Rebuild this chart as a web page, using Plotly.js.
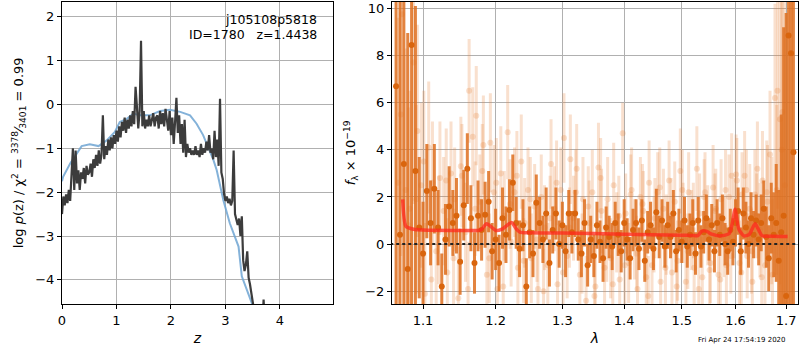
<!DOCTYPE html>
<html>
<head>
<meta charset="utf-8">
<script src="https://cdn.plot.ly/plotly-3.0.1.min.js"></script>
<style>html,body{margin:0;padding:0;background:#fff;}#chart{width:800px;height:350px;}</style>
</head>
<body>
<div id="chart"></div>
<script>
// ---- left panel: log p(z) ----
const zDark = [0.000,0.025,0.050,0.075,0.100,0.125,0.150,0.175,0.200,0.225,0.250,0.275,0.300,0.325,0.350,0.375,0.400,0.425,0.450,0.475,0.500,0.525,0.550,0.575,0.600,0.625,0.650,0.675,0.700,0.725,0.750,0.775,0.800,0.825,0.850,0.875,0.900,0.925,0.950,0.975,1.000,1.025,1.050,1.075,1.100,1.125,1.150,1.175,1.200,1.225,1.250,1.275,1.300,1.325,1.350,1.375,1.400,1.425,1.450,1.475,1.500,1.525,1.550,1.575,1.600,1.625,1.650,1.675,1.700,1.725,1.750,1.775,1.800,1.825,1.850,1.875,1.900,1.925,1.950,1.975,2.000,2.025,2.050,2.075,2.100,2.125,2.150,2.175,2.200,2.225,2.250,2.275,2.300,2.325,2.350,2.375,2.400,2.425,2.450,2.475,2.500,2.525,2.550,2.575,2.600,2.625,2.650,2.675,2.700,2.725,2.750,2.775,2.800,2.825,2.850,2.875,2.900,2.925,2.950,2.975,3.000,3.025,3.050,3.075,3.100,3.125,3.150,3.175,3.200,3.225,3.250,3.275,3.300,3.325,3.350,3.375,3.400,3.425,3.450,3.475,3.500,3.525,null,3.690,3.700,3.710];
const logpDark = [-2.50,-2.10,-2.30,-2.05,-2.25,-1.95,-2.20,-1.60,-1.00,-1.95,-1.05,-1.80,-1.50,-1.95,-1.55,-1.70,-1.45,-1.80,-1.40,-1.60,-1.55,-1.35,-1.65,-1.25,-1.45,-1.15,-1.40,-1.05,-1.35,-1.15,-0.25,-1.25,-0.95,-1.15,-0.80,-1.05,-0.75,-1.00,-0.70,-0.90,-0.60,-0.85,-0.50,-0.75,-0.40,-0.60,-0.30,-0.65,-0.35,-0.55,-0.25,-0.50,-0.15,-0.45,0.40,-0.05,-0.55,-0.15,1.45,-0.50,-0.15,-0.55,-0.35,-0.50,-0.25,-0.50,-0.35,-0.20,-0.50,-0.30,-0.25,-0.55,-0.15,-0.45,-0.20,-0.50,-0.10,-0.40,-0.60,-0.15,-0.70,-0.30,-0.90,-0.40,0.15,-0.65,-0.25,-0.90,-0.45,-1.10,-0.35,-1.20,-0.90,-1.10,-1.00,-1.15,-1.05,-1.15,-0.95,-1.15,-1.05,-1.20,-0.90,-1.15,-1.00,-1.10,-0.85,-1.05,-0.70,-1.10,-1.00,-1.25,-0.60,-1.20,-0.80,-1.40,0.13,-1.55,-1.70,-2.05,-2.20,-2.10,-2.25,-2.15,-2.30,-2.20,-1.05,-2.50,-2.60,-2.75,-2.60,-3.00,-2.55,-3.55,-3.80,-3.65,-3.35,-3.95,-4.10,-4.30,-4.50,-4.70,null,-4.70,-4.45,-4.70];
const zBlue = [0.00,0.02,0.15,0.27,0.36,0.51,0.67,0.82,0.97,1.06,1.19,1.31,1.43,1.61,1.80,1.98,2.17,2.35,2.47,2.59,2.72,2.78,2.84,2.93,2.96,3.08,3.24,3.30,3.48,3.55];
const logpBlue = [-1.75,-1.65,-1.35,-1.12,-0.95,-0.91,-0.95,-0.82,-0.63,-0.40,-0.33,-0.21,-0.25,-0.25,-0.15,-0.12,-0.17,-0.25,-0.44,-0.70,-1.08,-1.27,-1.50,-2.03,-2.18,-2.71,-3.24,-3.92,-4.53,-4.75];
const zTicks = [0,1,2,3,4];
const logpTicks = [-4,-3,-2,-1,0,1,2];

// ---- right panel: spectrum ----
const lamDark = [1.065,1.070,1.075,1.080,1.085,1.090,1.095,1.100,1.105,1.110,1.115,1.120,1.125,1.130,1.135,1.140,1.145,1.150,1.155,1.160,1.165,1.170,1.175,1.180,1.185,1.190,1.195,1.200,1.205,1.210,1.215,1.220,1.225,1.230,1.235,1.240,1.245,1.250,1.255,1.260,1.265,1.270,1.275,1.280,1.285,1.290,1.295,1.300,1.305,1.310,1.315,1.320,1.325,1.330,1.335,1.340,1.345,1.350,1.355,1.360,1.365,1.370,1.375,1.380,1.385,1.390,1.395,1.400,1.405,1.410,1.415,1.420,1.425,1.430,1.435,1.440,1.445,1.450,1.455,1.460,1.465,1.470,1.475,1.480,1.485,1.490,1.495,1.500,1.505,1.510,1.515,1.520,1.525,1.530,1.535,1.540,1.545,1.550,1.555,1.560,1.565,1.570,1.575,1.580,1.585,1.590,1.595,1.600,1.605,1.610,1.615,1.620,1.625,1.630,1.635,1.640,1.645,1.650,1.655,1.660,1.665,1.670,1.675,1.680,1.685,1.690,1.695,1.700,1.705,1.710,1.715];
const fluxDark = [6.7,0.4,3.4,-1.05,8.45,3.1,0.7,-0.4,2.25,0.9,2.35,0.7,-1.8,0.2,1.6,0.9,1.2,-0.75,1.65,3.2,1.1,-0.8,1.2,0.6,1.25,1.8,-0.3,0.2,-0.8,1.1,0.4,1.45,2.6,0.9,-0.2,0.8,-1.8,0.5,-0.4,1.75,0.9,0.2,1.3,-0.8,0.6,1.3,0.0,0.8,-0.3,1.3,0.5,1.3,0.2,-0.4,0.9,-0.9,0.2,-0.5,0.8,0.1,-0.6,0.7,0.3,-0.1,0.9,0.4,-0.3,0.9,0.2,-0.6,0.6,0.9,-0.2,1.0,-0.7,0.5,0.8,-0.2,1.35,0.3,1.0,-0.1,0.8,0.3,1.3,-0.3,0.6,0.1,1.0,-0.1,0.4,0.9,-0.4,1.0,-0.1,0.5,1.1,0.2,0.8,-0.3,0.9,0.4,1.1,0.0,-0.3,0.6,0.1,0.9,1.4,-0.3,1.3,0.7,0.0,1.1,0.4,1.0,0.2,0.9,1.5,0.3,-0.6,1.1,0.4,0.9,-0.7,0.5,1.2,-2.2,8.85,8.1,3.9];
const errDark = [12,10,9,10,12,7,3,2.2,2.0,1.8,1.9,1.6,1.4,1.5,1.7,1.4,1.6,1.4,1.5,1.5,1.4,1.3,1.5,1.3,1.4,1.3,1.2,1.3,1.2,1.3,1.2,1.3,1.2,1.1,1.2,1.1,1.2,1.1,1.0,1.2,1.1,1.0,1.1,1.0,1.0,1.1,1.0,1.0,1.1,1.0,0.9,1.0,0.9,1.0,1.0,0.9,1.0,0.9,1.0,0.9,1.0,0.9,0.9,1.0,0.9,0.9,0.9,1.0,0.9,0.9,0.9,1.0,0.9,0.9,0.9,0.9,1.0,0.9,1.0,0.9,0.9,0.9,1.0,0.9,1.0,0.9,0.9,0.9,1.0,0.9,0.9,1.0,0.9,1.0,0.9,0.9,1.0,0.9,0.9,0.9,1.0,0.9,1.0,0.9,1.0,0.9,1.0,1.0,1.0,1.0,1.1,1.1,1.0,1.1,1.0,1.1,1.1,1.2,1.2,1.3,1.4,1.5,1.8,2.5,3,5,8,12,12,12,12];
const lamLight = [1.0675,1.0725,1.0775,1.0825,1.0875,1.0925,1.0975,1.1025,1.1075,1.1125,1.1175,1.1225,1.1275,1.1325,1.1375,1.1425,1.1475,1.1525,1.1575,1.1625,1.1675,1.1725,1.1775,1.1825,1.1875,1.1925,1.1975,1.2025,1.2075,1.2125,1.2175,1.2225,1.2275,1.2325,1.2375,1.2425,1.2475,1.2525,1.2575,1.2625,1.2675,1.2725,1.2775,1.2825,1.2875,1.2925,1.2975,1.3025,1.3075,1.3125,1.3175,1.3225,1.3275,1.3325,1.3375,1.3425,1.3475,1.3525,1.3575,1.3625,1.3675,1.3725,1.3775,1.3825,1.3875,1.3925,1.3975,1.4025,1.4075,1.4125,1.4175,1.4225,1.4275,1.4325,1.4375,1.4425,1.4475,1.4525,1.4575,1.4625,1.4675,1.4725,1.4775,1.4825,1.4875,1.4925,1.4975,1.5025,1.5075,1.5125,1.5175,1.5225,1.5275,1.5325,1.5375,1.5425,1.5475,1.5525,1.5575,1.5625,1.5675,1.5725,1.5775,1.5825,1.5875,1.5925,1.5975,1.6025,1.6075,1.6125,1.6175,1.6225,1.6275,1.6325,1.6375,1.6425,1.6475,1.6525,1.6575,1.6625,1.6675,1.6725,1.6775,1.6825,1.6875,1.6925,1.6975];
const fluxLight = [2.6,9.75,2.3,1.5,7.7,4.8,2.5,-2.1,4.1,2.6,-0.3,2.8,1.4,-1.2,3.0,1.9,-2.3,2.9,0.5,6.5,4.55,5.45,1.8,4.2,-1.3,4.3,2.2,-1.9,3.0,1.2,4.75,0.1,2.2,-1.0,3.5,0.9,2.3,-0.6,1.6,-1.9,2.0,0.7,-0.9,3.4,1.5,-1.7,2.3,4.5,-0.5,3.6,1.1,3.2,-1.3,1.9,-2.4,0.9,2.2,-1.8,3.25,1.4,-1.0,1.9,-0.6,2.5,0.5,-1.5,4.7,1.3,-0.8,2.3,0.2,-1.9,2.0,1.4,-1.4,2.6,-0.9,1.1,2.2,-1.6,1.5,0.4,2.7,-1.2,1.8,-0.7,3.1,0.9,-1.6,2.2,0.6,-1.0,3.2,1.3,-1.4,2.2,0.8,-0.8,2.4,1.5,-1.3,1.9,0.3,-0.9,2.0,2.9,1.1,2.7,-0.8,2.1,2.9,-0.5,1.5,-1.6,2.1,3.2,0.6,2.7,-0.9,1.8,3.8,-1.3,6.2,6.5,5.3,5.6,2.5];
const errLight = [7,8,6,5,6,4.5,3.5,3,2.8,2.6,2.5,2.4,2.3,2.3,2.2,2.2,2.2,2.2,2.1,2.2,2.1,2.1,2.0,2.1,2.0,2.1,2.0,2.0,2.0,1.9,2.0,1.9,1.9,1.9,2.0,1.9,1.8,1.9,1.8,1.9,1.8,1.8,1.8,1.9,1.8,1.8,1.8,1.9,1.8,1.9,1.8,1.9,1.8,1.8,1.9,1.8,1.8,1.8,1.9,1.8,1.8,1.8,1.7,1.8,1.7,1.7,1.3,1.7,1.7,1.8,1.7,1.7,1.7,1.7,1.7,1.8,1.7,1.7,1.7,1.7,1.7,1.7,1.7,1.7,1.7,1.7,1.8,1.7,1.7,1.7,1.7,1.7,1.8,1.7,1.7,1.7,1.7,1.7,1.8,1.7,1.7,1.7,1.7,1.7,1.8,1.8,1.7,1.8,1.8,1.8,1.9,1.8,1.9,1.9,1.9,2.0,2.0,2.1,2.2,2.4,2.7,3.2,4,5,7,9,11];
const lamLight2 = [1.071,1.081,1.091,1.101,1.111,1.121,1.131,1.141,1.151,1.161,1.171,1.181,1.191,1.201,1.211,1.221,1.231,1.241,1.251,1.261,1.271,1.281,1.291,1.301,1.311,1.321,1.331,1.341,1.351,1.361,1.371,1.381,1.391,1.401,1.411,1.421,1.431,1.441,1.451,1.461,1.471,1.481,1.491,1.501,1.511,1.521,1.531,1.541,1.551,1.561,1.571,1.581,1.591,1.601,1.611,1.621,1.631,1.641,1.651,1.661,1.671,1.681,1.691];
const fluxLight2 = [5.5,0.8,1.9,3.5,-1.5,0.6,2.7,-0.6,3.3,-1.9,1.5,3.1,-0.6,2.6,-1.8,1.7,2.9,-0.7,1.9,0.2,-2.0,1.1,2.6,-1.2,0.7,2.2,-0.4,1.6,-2.2,2.8,0.1,-1.7,1.2,-0.9,2.1,-0.4,1.7,-2.2,0.4,2.4,-1.0,1.2,-1.8,2.3,-0.3,1.0,-1.9,2.0,-1.1,1.4,-1.5,2.3,-0.5,2.95,-1.2,2.3,-0.3,1.2,-1.4,2.2,1.0,2.3,4.0];
const errLight2 = [6,5,4,3,2.4,2.3,2.2,2.1,2.1,2.0,2.0,2.0,1.9,1.9,1.9,1.9,1.9,1.8,1.8,1.8,1.8,1.8,1.8,1.8,1.7,1.8,1.7,1.7,1.7,1.7,1.7,1.7,1.7,1.7,1.7,1.6,1.7,1.7,1.6,1.7,1.6,1.6,1.6,1.7,1.6,1.6,1.6,1.6,1.6,1.6,1.6,1.7,1.6,1.7,1.7,1.7,1.8,1.8,1.9,2.2,2.7,3.6,7];
const lamModel = [1.0735,1.0777,1.0877,1.1000,1.1500,1.1750,1.1800,1.1870,1.1950,1.2000,1.2100,1.2232,1.2300,1.2354,1.2500,1.3000,1.4000,1.5000,1.5195,1.5290,1.5367,1.5450,1.5550,1.5720,1.5880,1.5940,1.5990,1.6040,1.6070,1.6160,1.6260,1.6380,1.6450,1.6520,1.6700,1.7030];
const fluxModel = [1.90,0.75,0.63,0.60,0.58,0.58,0.62,0.86,0.70,0.58,0.65,0.92,0.65,0.51,0.48,0.47,0.42,0.38,0.37,0.36,0.55,0.55,0.42,0.35,0.45,0.90,1.48,0.85,0.60,0.35,0.40,0.86,0.60,0.35,0.33,0.32];
const lamZero = [1.05,1.73];
const fluxZero = [0,0];
const lamTicks = [1.1,1.2,1.3,1.4,1.5,1.6,1.7];
const lamTickText = ['1.1','1.2','1.3','1.4','1.5','1.6','1.7'];
const fluxTicks = [-2,0,2,4,6,8,10];

const FONT = 'DejaVu Sans, Liberation Sans, sans-serif';
const darkOrange = '#d9650e';
const lightOrange = 'rgba(230,130,60,0.25)';

const traces = [
  {x: zBlue, y: logpBlue, xaxis: 'x', yaxis: 'y', mode: 'lines',
   line: {color: 'rgba(110,165,210,0.85)', width: 2}, hoverinfo: 'skip'},
  {x: zDark, y: logpDark, xaxis: 'x', yaxis: 'y', mode: 'lines', connectgaps: false,
   line: {color: '#3c3c3c', width: 2.2}, hoverinfo: 'skip'},
  {x: lamLight, y: fluxLight, xaxis: 'x2', yaxis: 'y2', mode: 'markers',
   marker: {color: lightOrange, size: 6},
   error_y: {type: 'data', array: errLight, visible: true, width: 0, thickness: 3, color: lightOrange},
   hoverinfo: 'skip'},
  {x: lamLight2, y: fluxLight2, xaxis: 'x2', yaxis: 'y2', mode: 'markers',
   marker: {color: lightOrange, size: 6},
   error_y: {type: 'data', array: errLight2, visible: true, width: 0, thickness: 3, color: lightOrange},
   hoverinfo: 'skip'},
  {x: lamDark, y: fluxDark, xaxis: 'x2', yaxis: 'y2', mode: 'markers',
   marker: {color: darkOrange, size: 6},
   error_y: {type: 'data', array: errDark, visible: true, width: 0, thickness: 3, color: 'rgba(222,110,30,0.85)'},
   hoverinfo: 'skip'},
  {x: lamModel, y: fluxModel, xaxis: 'x2', yaxis: 'y2', mode: 'lines',
   line: {color: 'rgba(255,40,30,0.75)', width: 3.5, shape: 'spline', smoothing: 0.6}, hoverinfo: 'skip'},
  {x: lamZero, y: fluxZero, xaxis: 'x2', yaxis: 'y2', mode: 'lines',
   line: {color: '#222', width: 2, dash: 'dot'}, hoverinfo: 'skip'}
];

const axCommon = {
  showline: true, mirror: true, linecolor: '#000', linewidth: 1,
  ticks: 'outside', ticklen: 4, tickcolor: '#000', tickwidth: 1,
  showgrid: true, gridcolor: '#b0b0b0', gridwidth: 1, zeroline: false,
  tickfont: {family: FONT, size: 13, color: '#000'}
};

const layout = {
  width: 800, height: 350,
  margin: {l: 0, r: 0, t: 0, b: 0},
  paper_bgcolor: '#fff', plot_bgcolor: '#fff',
  showlegend: false,
  font: {family: FONT, color: '#000'},
  xaxis: Object.assign({}, axCommon, {
    domain: [0.0775, 0.416], range: [0, 4.97], tickvals: zTicks,
    title: {text: '<i>z</i>', font: {family: FONT, size: 14}, standoff: 6}
  }),
  yaxis: Object.assign({}, axCommon, {
    domain: [0.1314, 0.995], range: [-4.55, 2.34], tickvals: logpTicks,
    title: {text: 'log <i>p</i>(z) / χ<sup>2</sup> = <sup>3378</sup>⁄<sub>3401</sub> = 0.99', font: {family: FONT, size: 13}, standoff: 8}
  }),
  xaxis2: Object.assign({}, axCommon, {
    domain: [0.49, 0.9975], type: 'log', range: [0.02523, 0.23664],
    tickvals: lamTicks, ticktext: lamTickText, anchor: 'y2',
    title: {text: '<i>λ</i>', font: {family: FONT, size: 14}, standoff: 6}
  }),
  yaxis2: Object.assign({}, axCommon, {
    domain: [0.1314, 0.995], range: [-2.54, 10.28], tickvals: fluxTicks, anchor: 'x2',
    title: {text: '<i>f</i><sub>λ</sub> × 10<sup>−19</sup>', font: {family: FONT, size: 13}, standoff: 6}
  }),
  annotations: [
    {xref: 'paper', yref: 'paper', x: 0.399, y: 0.945, xanchor: 'right', yanchor: 'middle',
     text: 'j105108p5818', showarrow: false, font: {family: FONT, size: 12.5, color: '#000'}},
    {xref: 'paper', yref: 'paper', x: 0.399, y: 0.902, xanchor: 'right', yanchor: 'middle',
     text: 'ID=1780&nbsp;&nbsp;&nbsp;z=1.4438', showarrow: false, font: {family: FONT, size: 12.5, color: '#000'}},
    {xref: 'paper', yref: 'paper', x: 0.985, y: 0.028, xanchor: 'right', yanchor: 'middle',
     text: 'Fri Apr 24 17:54:19 2020', showarrow: false, font: {family: FONT, size: 7, color: '#000'}}
  ]
};

Plotly.newPlot('chart', traces, layout, {staticPlot: true, displayModeBar: false});
</script>
</body>
</html>
